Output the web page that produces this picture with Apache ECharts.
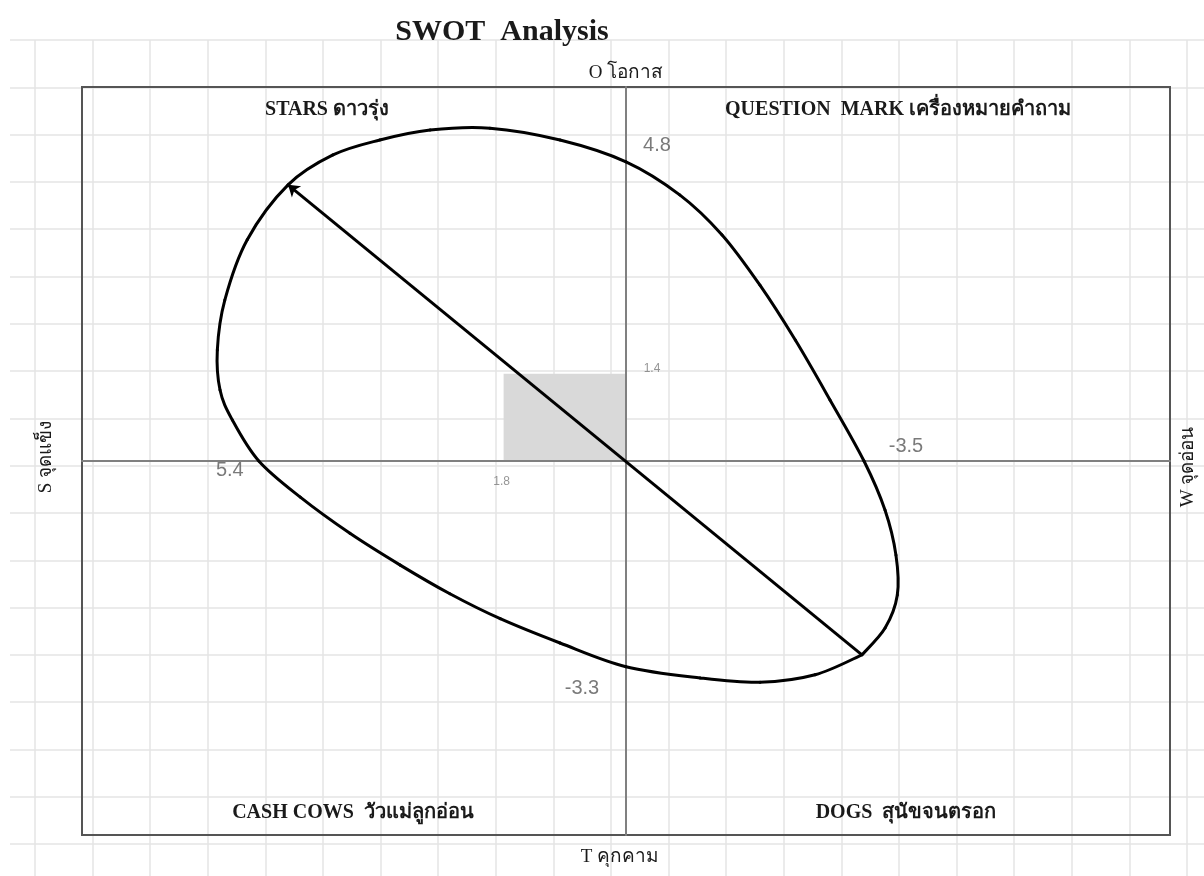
<!DOCTYPE html>
<html>
<head>
<meta charset="utf-8">
<script src="https://cdn.jsdelivr.net/npm/echarts@6/dist/echarts.min.js"></script>
<style>
html,body{margin:0;padding:0;background:#ffffff;}
#chart{width:1204px;height:876px;}
</style>
</head>
<body>
<div id="chart"></div>
<script>
// ---------- data ----------
const chartTitle = 'SWOT  Analysis';
const axisNames = ['S จุดแข็ง', 'W จุดอ่อน', 'O โอกาส', 'T คุกคาม'];
const quadrantNames = ['STARS ดาวรุ่ง', 'QUESTION  MARK เครื่องหมายคำถาม', 'CASH COWS  วัวแม่ลูกอ่อน', 'DOGS  สุนัขจนตรอก'];

// axis extents (S positive to the left, O positive upward)
const xRange = [-8, 8];
const yRange = [-6, 6];

// closed curve (x = S/W score, y = O/T score)
const curveX = [-3.47, -3.81, -3.99, -3.97, -3.81, -3.5, -3.0, -2.49, -1.97, -1.41, -0.79, 0, 0.97, 2.0, 2.88, 3.62, 4.31, 4.97, 5.57, 5.9, 6.01, 5.97, 5.79, 5.4, 4.79, 4.06, 3.32, 2.59, 1.85, 0.97, 0, -1.09, -1.97, -2.78, -3.47];
const curveY = [-3.11, -2.68, -2.15, -1.51, -0.79, 0, 0.98, 1.94, 2.82, 3.63, 4.27, 4.8, 5.15, 5.34, 5.31, 5.15, 4.91, 4.43, 3.55, 2.58, 1.78, 1.14, 0.66, 0, -0.58, -1.16, -1.67, -2.13, -2.53, -2.92, -3.3, -3.48, -3.55, -3.43, -3.11];

// arrow (from WT corner to SO corner)
const arrowFrom = [-3.47, -3.11];
const arrowTo = [4.97, 4.43];

// labelled key values on the curve
const keyX = [5.4, 0, -3.5, 0];
const keyY = [0, 4.8, 0, -3.3];
const keyText = ['5.4', '4.8', '-3.5', '-3.3'];

// grey square (average scores)
const squareX = 1.8;
const squareY = 1.4;
const squareText = ['1.8', '1.4'];

// ---------- chart ----------
const chart = echarts.init(document.getElementById('chart'), null, {renderer: 'canvas'});

const keyOffsets = [[-29, 9], [31, -16], [42, -15], [-44, 22]];
const keyData = keyX.map((x, i) => ({
  value: [x, keyY[i]],
  label: {formatter: keyText[i], offset: keyOffsets[i]}
}));
const squareLabelData = [
  {value: [squareX, 0], label: {formatter: squareText[0], offset: [-2, 21]}},
  {value: [0, squareY], label: {formatter: squareText[1], offset: [26, -5]}}
];

const hiddenAxisParts = {axisLine: {show: false}, axisTick: {show: false}, axisLabel: {show: false}};
const bgLine = {show: true, lineStyle: {color: '#e4e4e4', width: 1.5}};

const serif = "'Liberation Serif', 'DejaVu Serif', serif";
const textEl = (text, x, y, size, bold, rot) => ({
  type: 'text', x: x, y: y, rotation: rot || 0, z: 100,
  style: {text: text, font: (bold ? 'bold ' : '') + size + 'px ' + serif, fill: '#1a1a1a', align: 'center', verticalAlign: 'middle'}
});

// smooth curve: Catmull-Rom segments through the traced points (open at the WT corner)
function curveSegment(params, api) {
  const i = params.dataIndex;
  const n = curveX.length;
  if (i >= n - 1) return null;
  const P = (k) => api.coord([curveX[Math.max(0, Math.min(n - 1, k))], curveY[Math.max(0, Math.min(n - 1, k))]]);
  const p0 = P(i - 1), p1 = P(i), p2 = P(i + 1), p3 = P(i + 2);
  return {
    type: 'bezierCurve',
    shape: {
      x1: p1[0], y1: p1[1], x2: p2[0], y2: p2[1],
      cpx1: p1[0] + (p2[0] - p0[0]) / 6, cpy1: p1[1] + (p2[1] - p0[1]) / 6,
      cpx2: p2[0] - (p3[0] - p1[0]) / 6, cpy2: p2[1] - (p3[1] - p1[1]) / 6
    },
    style: {stroke: '#000000', lineWidth: 3, fill: null, lineCap: 'round'}
  };
}

const option = {
  backgroundColor: '#ffffff',
  animation: false,
  grid: [
    {left: 82, top: 87, width: 1088, height: 748, show: true, borderColor: '#555555', borderWidth: 2, backgroundColor: 'transparent', z: 2},
    {left: 35, top: 40, width: 1152, bottom: 0, show: false},
    {left: 10, right: 0, top: 40, height: 804.1, show: false}
  ],
  xAxis: [
    {gridIndex: 0, type: 'value', min: xRange[0], max: xRange[1], inverse: true,
     axisLine: {onZero: true, lineStyle: {color: '#808080', width: 2}},
     axisTick: {show: false}, axisLabel: {show: false}, splitLine: {show: false}, z: 3},
    Object.assign({gridIndex: 1, type: 'value', min: 0, max: 20, interval: 1, splitLine: bgLine, z: 0}, hiddenAxisParts),
    Object.assign({gridIndex: 2, type: 'value', min: 0, max: 1, splitLine: {show: false}}, hiddenAxisParts)
  ],
  yAxis: [
    {gridIndex: 0, type: 'value', min: yRange[0], max: yRange[1],
     axisLine: {onZero: true, lineStyle: {color: '#808080', width: 2}},
     axisTick: {show: false}, axisLabel: {show: false}, splitLine: {show: false}, z: 3},
    Object.assign({gridIndex: 1, type: 'value', min: 0, max: 1, splitLine: {show: false}}, hiddenAxisParts),
    Object.assign({gridIndex: 2, type: 'value', min: 0, max: 17, interval: 1, splitLine: bgLine, z: 0}, hiddenAxisParts)
  ],
  series: [
    {
      type: 'custom', xAxisIndex: 0, yAxisIndex: 0, z: 1, silent: true,
      data: [[0, 0, squareX, squareY]],
      encode: {x: [0, 2], y: [1, 3]},
      renderItem: function (params, api) {
        const p0 = api.coord([api.value(0), api.value(1)]);
        const p1 = api.coord([api.value(2), api.value(3)]);
        return {
          type: 'rect',
          shape: {x: Math.min(p0[0], p1[0]), y: Math.min(p0[1], p1[1]), width: Math.abs(p1[0] - p0[0]), height: Math.abs(p1[1] - p0[1])},
          style: {fill: '#d9d9d9'}
        };
      }
    },
    {
      type: 'custom', xAxisIndex: 0, yAxisIndex: 0, z: 5, silent: true,
      data: curveX.map((x, i) => [x, curveY[i]]),
      encode: {x: 0, y: 1},
      renderItem: curveSegment
    },
    {
      type: 'lines', coordinateSystem: 'cartesian2d', xAxisIndex: 0, yAxisIndex: 0, z: 5, silent: true,
      data: [{coords: [arrowFrom, arrowTo]}],
      symbol: ['none', 'arrow'], symbolSize: 11,
      lineStyle: {color: '#000000', width: 3, opacity: 1, curveness: 0}
    },
    {
      type: 'scatter', xAxisIndex: 0, yAxisIndex: 0, z: 6, silent: true,
      symbolSize: 2, itemStyle: {color: 'rgba(0,0,0,0)'},
      data: keyData,
      label: {show: true, position: 'inside', align: 'center', verticalAlign: 'middle',
        color: '#595959', fontSize: 20, fontFamily: "'Liberation Sans', Arial, sans-serif"}
    },
    {
      type: 'scatter', xAxisIndex: 0, yAxisIndex: 0, z: 6, silent: true,
      symbolSize: 2, itemStyle: {color: 'rgba(0,0,0,0)'},
      data: squareLabelData,
      label: {show: true, position: 'inside', align: 'center', verticalAlign: 'middle',
        color: '#7a7a7a', fontSize: 12, fontFamily: "'Liberation Sans', Arial, sans-serif"}
    }
  ],
  graphic: [
    textEl(chartTitle, 502, 32, 30, true),
    textEl(axisNames[2], 626, 73, 19, false),
    textEl(axisNames[3], 620, 857, 19, false),
    textEl(axisNames[0], 46, 457, 19, false, Math.PI / 2),
    textEl(axisNames[1], 1188, 467, 19, false, Math.PI / 2),
    textEl(quadrantNames[0], 327, 110, 20, true),
    textEl(quadrantNames[1], 898, 110, 20, true),
    textEl(quadrantNames[2], 353, 813, 20, true),
    textEl(quadrantNames[3], 906, 813, 20, true)
  ]
};
chart.setOption(option);
</script>
</body>
</html>
